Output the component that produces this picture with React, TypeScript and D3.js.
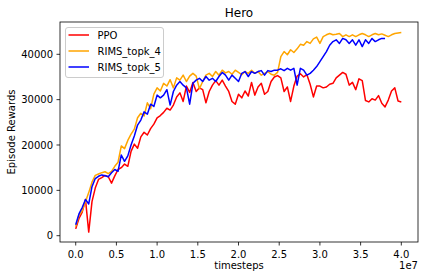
import React, { useEffect, useRef } from "react";
import * as d3 from "d3";

// one sample every 0.04e7 timesteps
const STEP = 400000;

const ppoRewards: number[] = [
  1500, 3800, 5200, 8000, 800, 7500, 10500, 12400, 12800, 13300,
  13000, 11600, 13200, 14600, 15000, 15800, 15300, 18600, 20200, 19300,
  21800, 22800, 22200, 23600, 24600, 26000, 26500, 27200, 28100, 27700,
  28800, 30600, 31500, 29600, 33000, 31600, 33800, 31800, 32600, 32200,
  29300, 31800, 33200, 34200, 33200, 34300, 33000, 31800, 29600, 29000,
  31200, 30400, 31900, 30800, 33800, 31000, 32800, 33600, 31200, 31800,
  34000, 35000, 35300, 34800, 31800, 32800, 29600, 33000, 35200, 35700,
  35000, 35500, 33400, 30600, 33000, 33000, 32600, 32800, 33400, 33600,
  34800, 35400, 36000, 35600, 33200, 33800, 32200, 34600, 34200, 29800,
  29500, 30200, 29900, 30900, 29200, 28400, 29900, 31900, 32600, 29700,
  29500,
];

const topk4Rewards: number[] = [
  2000, 4500, 5500, 7500, 9500, 11800, 13300, 13600, 13900, 14100,
  13700, 14200, 15300, 16200, 19800, 19200, 21000, 22400, 23500, 26000,
  27000, 26400, 29300, 28000, 31200, 32600, 31900, 33600, 33000, 34400,
  32600, 34800, 34300, 35400, 34000, 35200, 35800, 35200, 32400, 34000,
  35400, 35800, 35100, 36200, 35400, 36500, 35900, 36200, 35600, 36500,
  36000, 35500, 36200, 35800, 36500, 35800, 36200, 35400, 35800, 36200,
  35600, 35400, 36000, 39500, 40600, 39900, 41000, 40400, 41200, 42200,
  42000, 42800, 42400, 43400, 43800, 42400, 43900, 44300, 44600, 44300,
  44400, 44600, 43900, 44300, 43900, 44300, 43900, 44300, 44600, 44300,
  43900, 44300, 44600, 44300, 44500, 44200, 43900, 44300, 44600, 44700,
  44800,
];

const topk5Rewards: number[] = [
  2400, 4800, 6200, 8000, 7000, 10800, 12600, 13100, 13400, 13200,
  13000, 13900, 14600, 14200, 17800, 16400, 17600, 20000, 22000, 24400,
  25500, 27300, 26800, 29000, 28500, 31000, 30400, 31000, 32200, 28800,
  31800, 33200, 34000, 33200, 32600, 29000, 33600, 34300, 34700, 34000,
  35100, 34300, 34700, 34000, 35100, 36000, 35400, 34300, 35400, 34700,
  34000, 35800, 36200, 35100, 36200, 35800, 36200, 36400, 35400, 36400,
  36200, 36500, 36500, 36800, 36400, 36900, 36500, 36900, 33200, 36900,
  36500, 35400, 35800, 36500, 37300, 38400, 39500, 40600, 42000, 42800,
  43200, 42400, 43500, 43200, 42400, 43200, 42000, 43200, 41700, 43200,
  42400, 43500, 42800, 43200, 43500, 43500,
];

const seriesNames = ["PPO", "RIMS_topk_4", "RIMS_topk_5"];
const seriesColors = ["red", "orange", "blue"];
const xTicks = [0, 0.5e7, 1e7, 1.5e7, 2e7, 2.5e7, 3e7, 3.5e7, 4e7];
const yTicks = [0, 10000, 20000, 30000, 40000];

const App: React.FC = () => {
  const svgRef = useRef<SVGSVGElement | null>(null);

  useEffect(() => {
    if (!svgRef.current) return;
    const svg = d3.select(svgRef.current);
    svg.selectAll("*").remove();

    const left = 60, right = 418, top = 22, bottom = 242;
    const font = "DejaVu Sans, sans-serif";

    const x = d3.scaleLinear().domain([-0.193e7, 4.205e7]).range([left, right]);
    const y = d3.scaleLinear().domain([-1389, 47122]).range([bottom, top]);

    const line = d3
      .line<number>()
      .x((_, i) => x(i * STEP))
      .y((d) => y(d));

    const all = [ppoRewards, topk4Rewards, topk5Rewards];
    all.forEach((vals, k) => {
      svg
        .append("path")
        .datum(vals)
        .attr("fill", "none")
        .attr("stroke", seriesColors[k])
        .attr("stroke-width", 1.5)
        .attr("stroke-linejoin", "round")
        .attr("d", line);
    });

    // frame
    svg
      .append("rect")
      .attr("x", left)
      .attr("y", top)
      .attr("width", right - left)
      .attr("height", bottom - top)
      .attr("fill", "none")
      .attr("stroke", "black")
      .attr("stroke-width", 0.8);

    // x axis
    const xg = svg.append("g");
    xTicks.forEach((t) => {
      xg.append("line")
        .attr("x1", x(t)).attr("x2", x(t))
        .attr("y1", bottom).attr("y2", bottom + 3.5)
        .attr("stroke", "black").attr("stroke-width", 0.8);
      xg.append("text")
        .attr("x", x(t))
        .attr("y", bottom + 16)
        .attr("text-anchor", "middle")
        .attr("font-family", font)
        .attr("font-size", 10)
        .text((t / 1e7).toFixed(1));
    });

    // y axis
    const yg = svg.append("g");
    yTicks.forEach((t) => {
      yg.append("line")
        .attr("x1", left - 3.5).attr("x2", left)
        .attr("y1", y(t)).attr("y2", y(t))
        .attr("stroke", "black").attr("stroke-width", 0.8);
      yg.append("text")
        .attr("x", left - 7)
        .attr("y", y(t) + 3.6)
        .attr("text-anchor", "end")
        .attr("font-family", font)
        .attr("font-size", 10)
        .text(String(t));
    });

    svg.append("text")
      .attr("x", (left + right) / 2)
      .attr("y", 17)
      .attr("text-anchor", "middle")
      .attr("font-family", font)
      .attr("font-size", 12)
      .text("Hero");

    svg.append("text")
      .attr("x", (left + right) / 2)
      .attr("y", 268.5)
      .attr("text-anchor", "middle")
      .attr("font-family", font)
      .attr("font-size", 10)
      .text("timesteps");

    svg.append("text")
      .attr("x", right)
      .attr("y", 269)
      .attr("text-anchor", "end")
      .attr("font-family", font)
      .attr("font-size", 10)
      .text("1e7");

    svg.append("text")
      .attr("transform", `translate(15,${(top + bottom) / 2}) rotate(-90)`)
      .attr("text-anchor", "middle")
      .attr("font-family", font)
      .attr("font-size", 10)
      .text("Episode Rewards");

    // legend
    const lg = svg.append("g");
    lg.append("rect")
      .attr("x", 65.5).attr("y", 27.5)
      .attr("width", 98).attr("height", 50)
      .attr("rx", 2.5)
      .attr("fill", "white").attr("fill-opacity", 0.8)
      .attr("stroke", "#cccccc").attr("stroke-width", 1);
    seriesNames.forEach((name, k) => {
      const cy = 35 + k * 16;
      lg.append("line")
        .attr("x1", 68.5).attr("x2", 89)
        .attr("y1", cy).attr("y2", cy)
        .attr("stroke", seriesColors[k]).attr("stroke-width", 1.5);
      lg.append("text")
        .attr("x", 97.5)
        .attr("y", cy + 4)
        .attr("font-family", font)
        .attr("font-size", 10)
        .text(name);
    });
  }, []);

  return (
    <svg
      ref={svgRef}
      width={424}
      height={280}
      style={{ position: "absolute", left: 0, top: 0, background: "white" }}
    ></svg>
  );
};

export default App;
